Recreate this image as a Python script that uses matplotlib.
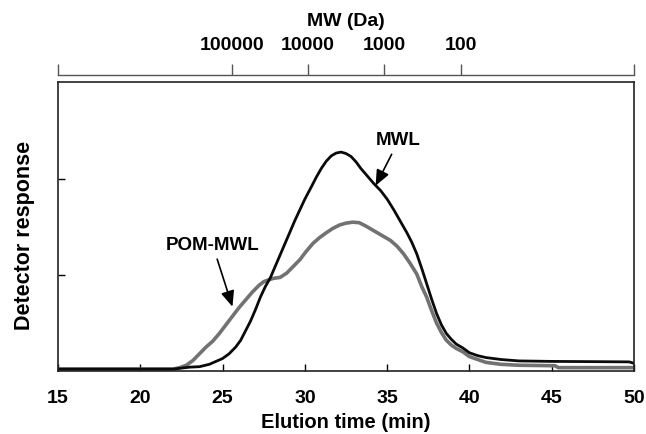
import matplotlib
matplotlib.use("Agg")
import matplotlib.pyplot as plt

plt.rcParams['font.family'] = ['Liberation Sans', 'DejaVu Sans']
plt.rcParams['font.weight'] = 'bold'

# MWL (black) elution profile
mwl_time = [15, 20, 22, 22.5, 23, 23.6, 24.2, 24.6, 25.0, 25.4, 25.8, 26.1, 26.4, 26.7,
            27.0, 27.3, 27.6, 27.9, 28.2, 28.5, 28.8, 29.1, 29.4, 29.7, 30.0, 30.4, 30.7,
            31.0, 31.3, 31.6, 31.9, 32.2, 32.5, 32.8, 33.1, 33.4, 33.8, 34.2, 34.6, 35.0,
            35.4, 35.8, 36.2, 36.5, 36.8, 37.1, 37.4, 37.7, 38.0, 38.3, 38.6, 38.9, 39.2,
            39.6, 40.0, 40.5, 41.0, 41.9, 43.0, 45.0, 48.0, 49.7, 50.0]
mwl_resp = [0.02, 0.02, 0.02, 0.03, 0.04, 0.045, 0.07, 0.1, 0.13, 0.18, 0.25, 0.32, 0.42, 0.52,
            0.64, 0.77, 0.88, 0.97, 1.09, 1.21, 1.33, 1.45, 1.57, 1.68, 1.79, 1.92, 2.02,
            2.11, 2.185, 2.24, 2.27, 2.28, 2.265, 2.235, 2.18, 2.11, 2.03, 1.95, 1.88, 1.79,
            1.68, 1.56, 1.44, 1.34, 1.22, 1.07, 0.91, 0.75, 0.60, 0.48, 0.39, 0.33, 0.28,
            0.24, 0.19, 0.16, 0.14, 0.12, 0.105, 0.10, 0.097, 0.095, 0.08]

# POM-MWL (grey) elution profile
pom_time = [15, 22.0, 22.4, 22.8, 23.2, 23.6, 24.0, 24.4, 24.8, 25.2, 25.6, 26.0, 26.4, 26.8,
            27.2, 27.5, 27.8, 28.1, 28.5, 28.9, 29.3, 29.7, 30.1, 30.5, 30.9, 31.3, 31.7,
            32.1, 32.5, 32.9, 33.3, 33.7, 34.1, 34.5, 34.9, 35.2, 35.6, 36.0, 36.4, 36.8,
            37.1, 37.4, 37.7, 38.0, 38.3, 38.6, 38.9, 39.2, 39.6, 40.0, 40.5, 41.0, 41.9,
            43.0, 45.2, 45.4, 50.0]
pom_resp = [0.02, 0.02, 0.035, 0.06, 0.11, 0.18, 0.25, 0.31, 0.39, 0.48, 0.57, 0.66, 0.74, 0.82,
            0.89, 0.93, 0.95, 0.965, 0.975, 1.02, 1.09, 1.16, 1.25, 1.33, 1.39, 1.44, 1.485,
            1.52, 1.54, 1.55, 1.545, 1.51, 1.47, 1.43, 1.39, 1.36, 1.30, 1.22, 1.12, 1.01,
            0.88, 0.77, 0.63, 0.50, 0.40, 0.32, 0.27, 0.235, 0.20, 0.15, 0.12, 0.09, 0.07,
            0.06, 0.055, 0.035, 0.035]

# MW calibration on the top axis
mw_labels = ['100000', '10000', '1000', '100']
mw_times = [25.6, 30.2, 34.8, 39.5]

fig = plt.figure(figsize=(6.46, 4.34), dpi=100)
ax = fig.add_axes([58 / 646, 63 / 434, 576 / 646, 289 / 434])

ax.plot(pom_time, pom_resp, color='#727272', lw=2.6)
ax.plot(mwl_time, mwl_resp, color='#0a0a0a', lw=2.0)

ax.set_xlim(15, 50)
ax.set_ylim(0, 3.01)
ax.set_xticks([15, 20, 25, 30, 35, 40, 45, 50])
ax.set_yticks([1, 2])
ax.set_yticklabels([])
ax.tick_params(direction='in', length=5, width=1, labelsize=14, pad=14)
for s in ax.spines.values():
    s.set_linewidth(1.2)
    s.set_color('#222222')

ax.set_xlabel('Elution time (min)', fontsize=14.5, fontweight='bold', labelpad=4)
ax.set_ylabel('Detector response', fontsize=15.5, fontweight='bold')
ax.yaxis.set_label_coords(-0.04, 0.47)

# top MW axis, drawn as a separate line above the box
top = ax.twiny()
top.set_xlim(15, 50)
top.set_xticks([15] + mw_times + [50])
top.set_xticklabels([''] + mw_labels + [''])
top.spines['top'].set_position(('outward', 5))
for side in ['left', 'right', 'bottom']:
    top.spines[side].set_visible(False)
top.spines['top'].set_linewidth(1.0)
top.spines['top'].set_color('#555555')
top.tick_params(direction='out', length=8, width=1, color='#555555', labelsize=14, pad=7)
top.set_xlabel('MW (Da)', fontsize=14, fontweight='bold', labelpad=8)

arrow = dict(arrowstyle='-|>,head_length=0.7,head_width=0.3', color='black', lw=1.2,
             shrinkA=2, shrinkB=0)
ax.annotate('MWL', xy=(34.3, 1.93), xytext=(35.7, 2.4), fontsize=13.5, fontweight='bold',
            ha='center', va='center', arrowprops=arrow)
ax.annotate('POM-MWL', xy=(25.6, 0.67), xytext=(24.4, 1.31), fontsize=13.5, fontweight='bold',
            ha='center', va='center', arrowprops=arrow)

fig.savefig('out.png', dpi=100)
